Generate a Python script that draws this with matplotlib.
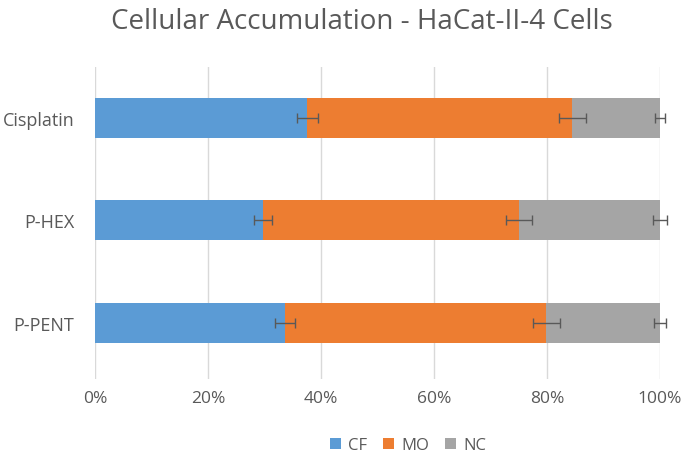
import numpy as np
import matplotlib.pyplot as plt
from matplotlib.ticker import PercentFormatter

plt.rcParams['font.family'] = ['Open Sans', 'DejaVu Sans']

# data (percent)
categories = ['P-PENT', 'P-HEX', 'Cisplatin']
series = ['CF', 'MO', 'NC']
cf = [33.6, 29.8, 37.6]
mo = [46.3, 45.3, 46.9]
nc = [20.1, 24.9, 15.5]
cf_err = [1.8, 1.6, 1.9]
mo_err = [2.4, 2.3, 2.4]
nc_err = [1.1, 1.3, 0.8]

colours = ['#5b9bd5', '#ed7d31', '#a5a5a5']
text_col = '#595959'

W, H = 688, 464
fig = plt.figure(figsize=(W / 100, H / 100), dpi=100)
# plot area in pixels: x 95..660, y 68..380
ax = fig.add_axes([95 / W, 1 - 380 / H, 565 / W, 312 / H])

y = np.arange(len(categories))
left = np.zeros(len(categories))
for name, vals, errs, col in zip(series, [cf, mo, nc], [cf_err, mo_err, nc_err], colours):
    vals = np.array(vals)
    ax.barh(y, vals, left=left, height=0.39, color=col, label=name, zorder=2)
    eb = ax.errorbar(left + vals, y, xerr=errs, fmt='none', ecolor='#595959',
                     elinewidth=1, capsize=3.5, capthick=1, zorder=3)
    for art in eb.lines[1] + eb.lines[2]:
        art.set_clip_on(False)
    left = left + vals

ax.set_xlim(0, 100)
ax.set_ylim(-0.55, 2.5)
ax.set_xticks(np.arange(0, 101, 20))
ax.xaxis.set_major_formatter(PercentFormatter(decimals=0))
ax.set_yticks(y)
ax.set_yticklabels(categories)
ax.grid(axis='x', color='#d9d9d9', linewidth=1, zorder=0)
ax.set_axisbelow(True)
for s in ax.spines.values():
    s.set_visible(False)
ax.tick_params(length=0, colors=text_col)
ax.tick_params(axis='x', labelsize=12.5, pad=8)
ax.tick_params(axis='y', labelsize=13, pad=15)

fig.text(362 / W, 1 - 29 / H, 'Cellular Accumulation - HaCat-II-4 Cells',
         ha='center', va='baseline', fontsize=20, color=text_col)
fig.legend(loc='center', bbox_to_anchor=(408 / W, 1 - 446 / H), ncol=3, frameon=False,
           fontsize=12, labelcolor=text_col, handlelength=0.65, handleheight=0.65,
           handletextpad=0.4, columnspacing=1.0)

fig.savefig('out.png', dpi=100)
